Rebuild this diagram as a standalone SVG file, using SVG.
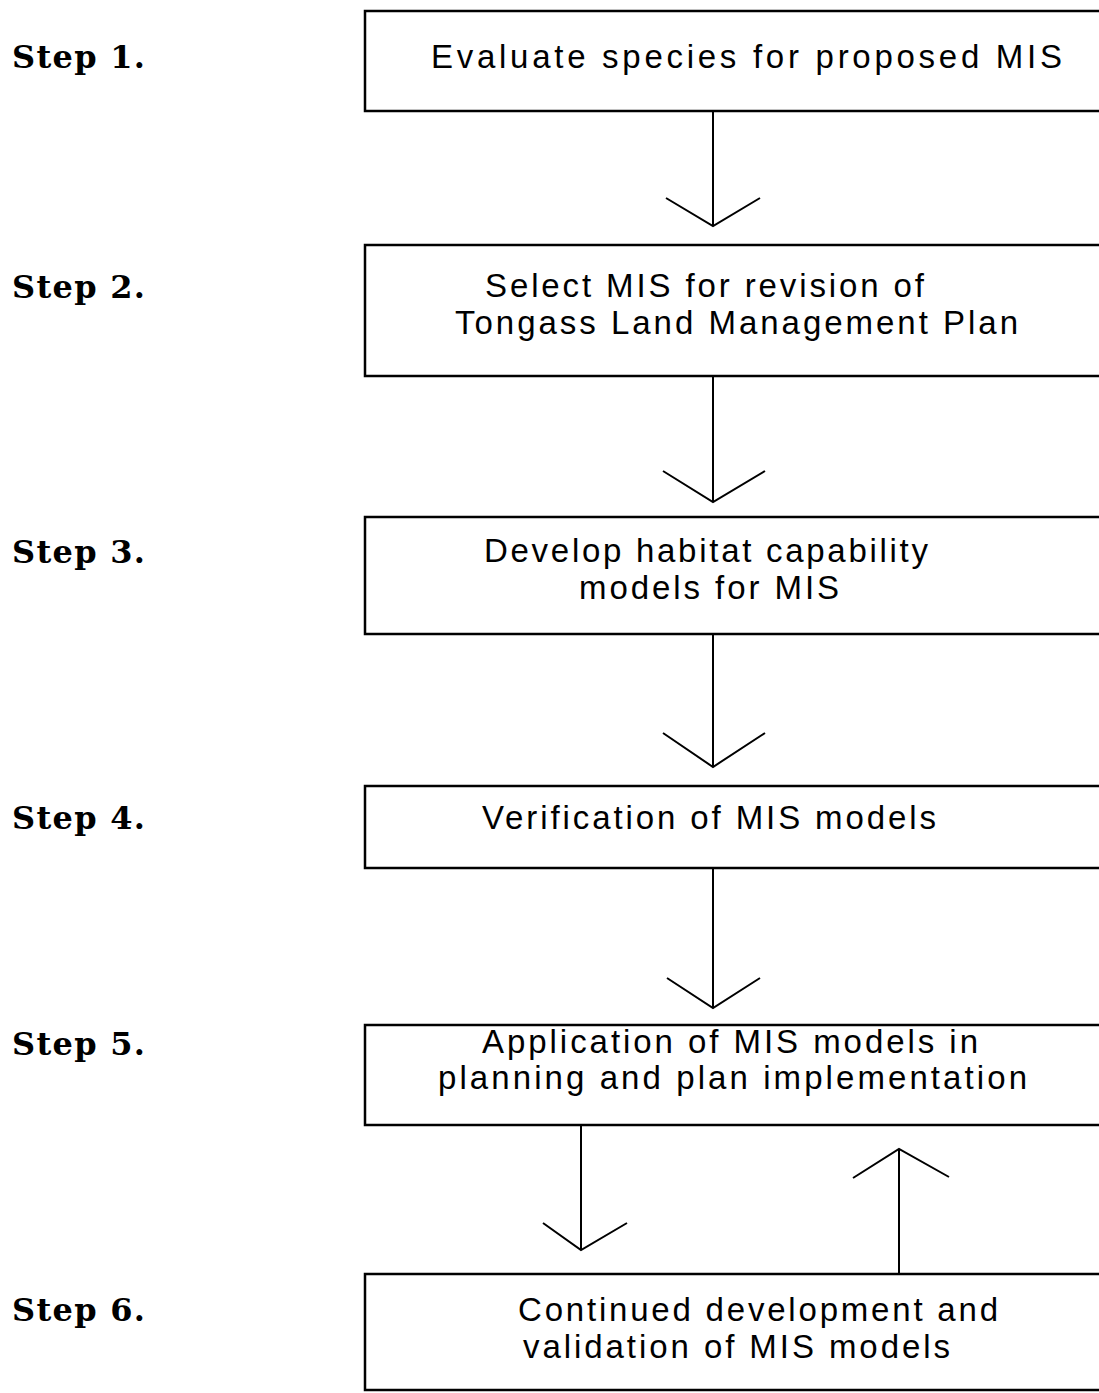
<svg xmlns="http://www.w3.org/2000/svg" width="1099" height="1393" viewBox="0 0 1099 1393">
  <style>
    .box { fill: none; stroke: #000; stroke-width: 2.5; }
    .step { font-family: "DejaVu Serif", "Liberation Serif", serif; font-weight: bold; font-size: 32px; fill: #000; }
    .label { font-family: "Liberation Sans", Arial, sans-serif; font-size: 33px; fill: #000; }
    .wire { fill: none; stroke: #000; stroke-width: 2; stroke-linejoin: miter; }
  </style>
  <rect width="1099" height="1393" fill="#fff"/>

  <!-- step captions -->
  <g id="steps">
    <text class="step" x="12" y="68" textLength="133" lengthAdjust="spacing">Step 1.</text>
    <text class="step" x="12" y="298" textLength="133" lengthAdjust="spacing">Step 2.</text>
    <text class="step" x="12" y="563" textLength="133" lengthAdjust="spacing">Step 3.</text>
    <text class="step" x="12" y="829" textLength="133" lengthAdjust="spacing">Step 4.</text>
    <text class="step" x="12" y="1055" textLength="133" lengthAdjust="spacing">Step 5.</text>
    <text class="step" x="12" y="1321" textLength="133" lengthAdjust="spacing">Step 6.</text>
  </g>

  <g id="node1">
    <rect class="box" x="365" y="11" width="760" height="100"/>
    <text class="label" x="431" y="68" textLength="631" lengthAdjust="spacing">Evaluate species for proposed MIS</text>
  </g>
  <g id="node2">
    <rect class="box" x="365" y="245" width="760" height="131"/>
    <text class="label" x="485" y="297" textLength="439" lengthAdjust="spacing">Select MIS for revision of</text>
    <text class="label" x="455" y="334" textLength="563" lengthAdjust="spacing">Tongass Land Management Plan</text>
  </g>
  <g id="node3">
    <rect class="box" x="365" y="517" width="760" height="117"/>
    <text class="label" x="484" y="562" textLength="444" lengthAdjust="spacing">Develop habitat capability</text>
    <text class="label" x="579" y="599" textLength="260" lengthAdjust="spacing">models for MIS</text>
  </g>
  <g id="node4">
    <rect class="box" x="365" y="786" width="760" height="82"/>
    <text class="label" x="482" y="829" textLength="454" lengthAdjust="spacing">Verification of MIS models</text>
  </g>
  <g id="node5">
    <rect class="box" x="365" y="1025" width="760" height="100"/>
    <text class="label" x="482" y="1053" textLength="496" lengthAdjust="spacing">Application of MIS models in</text>
    <text class="label" x="438" y="1089" textLength="589" lengthAdjust="spacing">planning and plan implementation</text>
  </g>
  <g id="node6">
    <rect class="box" x="365" y="1274" width="760" height="116"/>
    <text class="label" x="518" y="1321" textLength="480" lengthAdjust="spacing">Continued development and</text>
    <text class="label" x="523" y="1358" textLength="427" lengthAdjust="spacing">validation of MIS models</text>
  </g>

  <!-- connectors: shaft plus open chevron head -->
  <g id="connectors">
    <path class="wire" d="M713,111 V226 M666,198 L713,226 L760,198"/>
    <path class="wire" d="M713,376 V502 M663,471 L713,502 L765,471"/>
    <path class="wire" d="M713,634 V767 M663,733 L713,767 L765,733"/>
    <path class="wire" d="M713,868 V1008 M667,978 L713,1008 L760,978"/>
    <path class="wire" d="M581,1125 V1250 M543,1223 L581,1250 L627,1223"/>
    <path class="wire" d="M899,1274 V1149 M853,1178 L899,1149 L949,1177"/>
  </g>
</svg>
